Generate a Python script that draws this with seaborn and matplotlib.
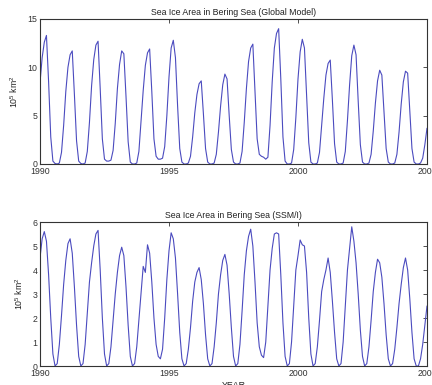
import numpy as np
import pandas as pd
import matplotlib
matplotlib.use("Agg")
import matplotlib.pyplot as plt
import seaborn as sns

# monthly sea ice area, Jan 1990 .. Jan 2005 (one row per year, Jan..Dec)
model_area = [
    8.4, 11.0, 12.6, 13.3, 8.5, 2.8, 0.3, 0.05, 0.0, 0.1, 1.2, 4.0,    # 1990
    7.5, 10.0, 11.3, 11.7, 7.2, 2.4, 0.3, 0.05, 0.0, 0.1, 1.3, 4.3,    # 1991
    8.1, 10.8, 12.3, 12.7, 7.8, 2.6, 0.5, 0.3, 0.3, 0.4, 1.4, 4.2,     # 1992
    7.8, 10.3, 11.7, 11.4, 7.0, 2.3, 0.2, 0.0, 0.0, 0.1, 1.3, 4.4,     # 1993
    7.6, 10.2, 11.5, 11.9, 7.5, 2.6, 0.8, 0.5, 0.5, 0.6, 1.8, 5.0,     # 1994
    9.0, 12.0, 12.8, 11.0, 6.0, 1.6, 0.2, 0.0, 0.0, 0.1, 0.8, 2.8,     # 1995
    5.3, 7.2, 8.3, 8.6, 5.2, 1.6, 0.2, 0.0, 0.0, 0.1, 1.0, 3.3,        # 1996
    6.0, 8.2, 9.3, 8.8, 5.0, 1.5, 0.2, 0.0, 0.0, 0.1, 1.3, 4.3,        # 1997
    7.8, 10.6, 12.0, 12.4, 7.6, 2.6, 1.0, 0.8, 0.7, 0.5, 0.7, 4.0,     # 1998
    8.5, 12.0, 13.5, 14.0, 8.8, 2.8, 0.3, 0.0, 0.0, 0.1, 1.5, 4.8,     # 1999
    8.8, 11.6, 12.9, 12.0, 7.0, 2.2, 0.2, 0.0, 0.0, 0.1, 1.2, 4.0,     # 2000
    6.8, 9.2, 10.4, 10.75, 6.6, 2.1, 0.2, 0.0, 0.0, 0.1, 1.3, 4.5,     # 2001
    8.2, 11.2, 12.3, 11.3, 6.5, 2.0, 0.2, 0.0, 0.0, 0.1, 1.0, 3.4,     # 2002
    6.3, 8.6, 9.7, 9.2, 5.4, 1.6, 0.2, 0.0, 0.0, 0.1, 1.0, 3.3,        # 2003
    6.2, 8.5, 9.6, 9.4, 5.5, 1.6, 0.2, 0.0, 0.0, 0.1, 0.6, 2.0,        # 2004
    3.7,                                                               # 2005
]

ssmi_area = [
    4.5, 5.3, 5.6, 5.2, 3.8, 2.0, 0.5, 0.0, 0.1, 0.9, 2.1, 3.4,        # 1990
    4.4, 5.1, 5.3, 4.7, 3.3, 1.7, 0.4, 0.0, 0.1, 0.9, 2.2, 3.5,        # 1991
    4.3, 5.0, 5.5, 5.65, 4.0, 2.0, 0.5, 0.0, 0.1, 0.8, 1.9, 3.0,       # 1992
    3.9, 4.6, 4.95, 4.6, 3.3, 1.7, 0.4, 0.0, 0.1, 0.8, 1.9, 3.0,       # 1993
    4.15, 3.9, 5.05, 4.7, 3.5, 2.0, 0.9, 0.4, 0.3, 0.7, 2.0, 3.6,      # 1994
    4.8, 5.55, 5.3, 4.5, 3.0, 1.4, 0.3, 0.0, 0.1, 0.7, 1.6, 2.7,       # 1995
    3.5, 3.9, 4.1, 3.6, 2.6, 1.3, 0.3, 0.0, 0.1, 0.8, 1.8, 3.0,        # 1996
    3.8, 4.4, 4.65, 4.2, 3.0, 1.6, 0.4, 0.0, 0.1, 0.9, 2.3, 3.8,       # 1997
    4.8, 5.4, 5.7, 5.0, 3.5, 1.8, 0.8, 0.45, 0.35, 1.0, 2.5, 4.0,      # 1998
    4.9, 5.5, 5.55, 5.5, 3.8, 1.8, 0.4, 0.0, 0.1, 1.0, 2.5, 4.0,       # 1999
    4.6, 5.25, 5.05, 5.0, 3.9, 2.0, 0.5, 0.0, 0.1, 0.8, 1.9, 3.1,      # 2000
    3.6, 4.0, 4.5, 3.9, 2.7, 1.4, 0.3, 0.0, 0.1, 1.0, 2.5, 4.0,        # 2001
    4.9, 5.8, 5.2, 4.3, 3.0, 1.5, 0.4, 0.0, 0.1, 0.8, 1.9, 3.1,        # 2002
    3.9, 4.45, 4.3, 3.7, 2.6, 1.3, 0.3, 0.0, 0.1, 0.7, 1.6, 2.6,       # 2003
    3.4, 4.1, 4.5, 4.0, 2.8, 1.4, 0.3, 0.0, 0.0, 0.3, 0.9, 1.7,        # 2004
    2.5,                                                               # 2005
]

year_ticks = [1990, 1995, 2000, 2005]
titles = ["Sea Ice Area in Bering Sea (Global Model)",
          "Sea Ice Area in Bering Sea (SSM/I)"]

months = np.arange(len(model_area))
df = pd.DataFrame({
    'year': 1990 + months / 12.0,
    'model': model_area,
    'ssmi': ssmi_area,
})

sns.set_style("white")
plt.rcParams['font.family'] = ['Liberation Sans', 'DejaVu Sans']
plt.rcParams['mathtext.fontset'] = 'custom'
plt.rcParams['mathtext.rm'] = 'Liberation Sans'
plt.rcParams['mathtext.it'] = 'Liberation Sans'

fig = plt.figure(figsize=(4.32, 3.85), dpi=100)
ax1 = fig.add_axes([40 / 432, 1 - 164 / 385, 387 / 432, 145 / 385])
ax2 = fig.add_axes([40 / 432, 1 - 366 / 385, 387 / 432, 144 / 385])

line_color = '#4b4bbf'
fs = 6.3

for ax, col, title, ylim, yticks in [
    (ax1, 'model', titles[0], (0, 15), [0, 5, 10, 15]),
    (ax2, 'ssmi', titles[1], (0, 6), [0, 1, 2, 3, 4, 5, 6]),
]:
    sns.lineplot(data=df, x='year', y=col, ax=ax, color=line_color, linewidth=0.8)
    ax.set_xlim(1990, 2005)
    ax.set_ylim(*ylim)
    ax.set_xticks(year_ticks)
    ax.set_yticks(yticks)
    ax.tick_params(direction='in', length=3, width=0.6, labelsize=fs,
                   top=True, right=True, pad=2, colors='#333333')
    for s in ax.spines.values():
        s.set_color('#333333')
        s.set_linewidth(0.8)
    ax.set_title(title, fontsize=fs, pad=3, color='#222222')
    ax.set_ylabel(r'10$^5$ km$^2$', fontsize=fs, labelpad=5, color='#222222')
    ax.set_xlabel('')

ax2.set_xlabel('YEAR', fontsize=fs, labelpad=2.5, color='#222222')

fig.savefig('out.png', dpi=100)
